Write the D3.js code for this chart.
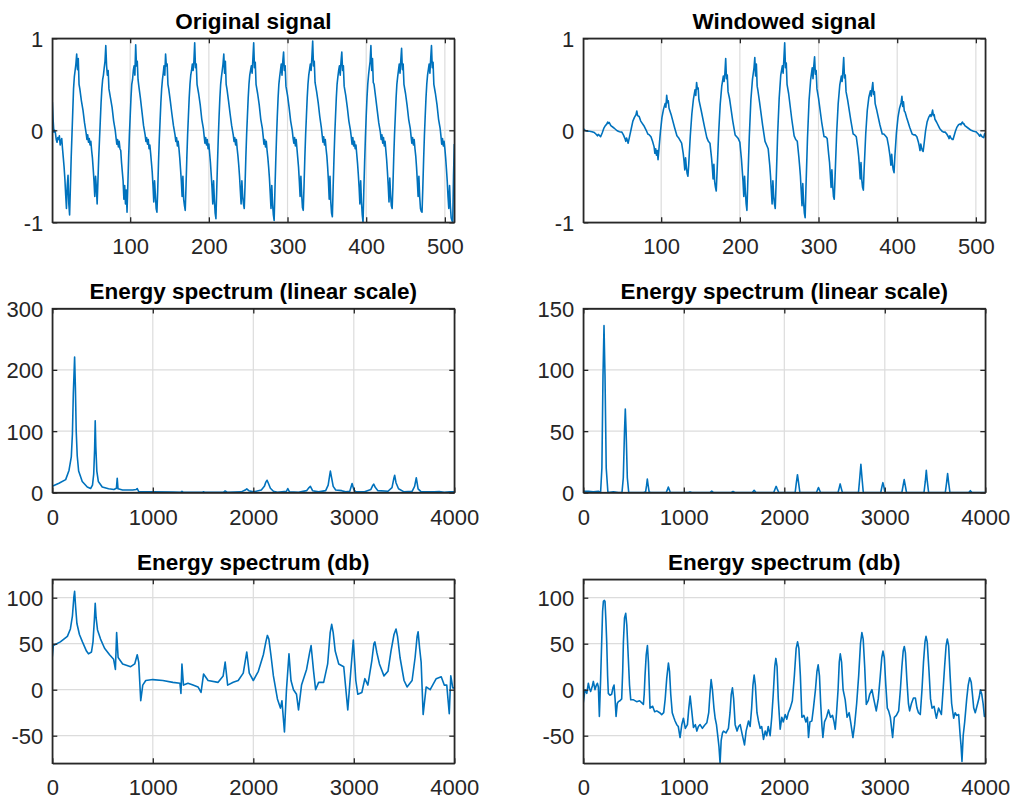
<!DOCTYPE html>
<html>
<head>
<meta charset="utf-8">
<script src="https://cdn.jsdelivr.net/npm/d3@7"></script>
<style>
  body { margin: 0; background: #fff; }
  svg { display: block; }
</style>
</head>
<body>
<svg id="chart" width="1016" height="799"></svg>
<script>
// sample index, amplitude
const originalSignal = [
  [1,0.31],[2,0.12],[3,-0.02],[4,0.0],[5,-0.03],[6,-0.1],[7,-0.13],[8,-0.08],[9,-0.1],[10,-0.06],[11,-0.16],[12,-0.12],[13,-0.09],[14,-0.2],[15,-0.3],[16,-0.4],[17,-0.53],[18,-0.7],[19,-0.85],[20,-0.6],[21,-0.49],[22,-0.8],[23,-0.92],
  [24,-0.62],[25,-0.3],[26,-0.05],[27,0.2],[28,0.45],[29,0.58],[30,0.65],[31,0.72],[32,0.83],[33,0.66],[34,0.78],[35,0.5],[36,0.45],[38,0.32],[40,0.22],[42,0.08],[44,-0.03],[45,-0.1],[46,-0.05],[47,-0.13],[48,-0.09],[49,-0.16],[50,-0.12],[51,-0.22],[52,-0.3],[53,-0.42],[54,-0.55],[55,-0.72],[56,-0.5],[57,-0.62],[58,-0.8],
  [59,-0.55],[60,-0.3],[61,-0.1],[62,0.1],[63,0.3],[64,0.45],[65,0.55],[66,0.6],[67,0.68],[68,0.75],[69,0.92],[70,0.7],[71,0.6],[72,0.65],[73,0.45],[75,0.35],[77,0.25],[79,0.1],[81,0.0],[82,-0.08],[83,-0.15],[84,-0.1],[85,-0.18],[86,-0.12],[87,-0.2],[88,-0.22],[89,-0.35],[90,-0.45],[91,-0.55],[92,-0.75],[93,-0.6],[94,-0.8],[95,-0.65],[96,-0.89],
  [97,-0.6],[98,-0.3],[99,-0.05],[100,0.15],[101,0.35],[102,0.5],[103,0.55],[104,0.65],[105,0.7],[106,0.6],[107,0.93],[108,0.7],[109,0.75],[110,0.55],[111,0.48],[113,0.35],[115,0.2],[117,0.05],[119,-0.05],[120,-0.12],[121,-0.08],[122,-0.15],[123,-0.1],[124,-0.2],[125,-0.16],[126,-0.25],[127,-0.35],[128,-0.45],[129,-0.6],[130,-0.78],[131,-0.55],[132,-0.7],[133,-0.85],[134,-0.89],
  [135,-0.65],[136,-0.35],[137,-0.1],[138,0.1],[139,0.3],[140,0.45],[141,0.55],[142,0.62],[143,0.7],[144,0.6],[145,0.83],[146,0.7],[147,0.72],[148,0.5],[149,0.45],[151,0.32],[153,0.18],[155,0.05],[157,-0.05],[158,-0.12],[159,-0.08],[160,-0.17],[161,-0.12],[162,-0.2],[163,-0.3],[164,-0.42],[165,-0.55],[166,-0.72],[167,-0.5],[168,-0.75],[169,-0.82],[170,-0.87],
  [171,-0.6],[172,-0.3],[173,-0.05],[174,0.15],[175,0.35],[176,0.5],[177,0.6],[178,0.65],[179,0.72],[180,0.65],[181,0.75],[182,0.95],[183,0.68],[184,0.72],[185,0.5],[187,0.4],[189,0.28],[191,0.12],[193,0.02],[194,-0.06],[195,-0.14],[196,-0.08],[197,-0.16],[198,-0.1],[199,-0.2],[200,-0.15],[201,-0.25],[202,-0.35],[203,-0.48],[204,-0.62],[205,-0.8],[206,-0.55],[207,-0.75],[208,-0.9],[209,-0.96],
  [210,-0.65],[211,-0.35],[212,-0.08],[213,0.15],[214,0.35],[215,0.5],[216,0.58],[217,0.65],[218,0.72],[219,0.83],[220,0.62],[221,0.75],[222,0.5],[223,0.45],[225,0.32],[227,0.18],[229,0.05],[231,-0.05],[232,-0.12],[233,-0.08],[234,-0.16],[235,-0.1],[236,-0.2],[237,-0.28],[238,-0.38],[239,-0.5],[240,-0.65],[241,-0.8],[242,-0.55],[243,-0.72],[244,-0.8],[245,-0.85],
  [246,-0.6],[247,-0.3],[248,-0.05],[249,0.15],[250,0.35],[251,0.5],[252,0.6],[253,0.65],[254,0.7],[255,0.62],[256,0.78],[257,0.95],[258,0.68],[259,0.74],[260,0.5],[262,0.4],[264,0.28],[266,0.12],[268,0.02],[269,-0.06],[270,-0.15],[271,-0.1],[272,-0.18],[273,-0.12],[274,-0.22],[275,-0.3],[276,-0.4],[277,-0.52],[278,-0.68],[279,-0.85],[280,-0.6],[281,-0.8],[282,-0.92],[283,-0.98],
  [284,-0.65],[285,-0.35],[286,-0.08],[287,0.15],[288,0.35],[289,0.5],[290,0.58],[291,0.65],[292,0.72],[293,0.6],[294,0.75],[295,0.85],[296,0.65],[297,0.7],[298,0.48],[300,0.38],[302,0.25],[304,0.1],[306,0.0],[307,-0.08],[308,-0.14],[309,-0.08],[310,-0.17],[311,-0.1],[312,-0.2],[313,-0.3],[314,-0.4],[315,-0.55],[316,-0.72],[317,-0.5],[318,-0.7],[319,-0.84],[320,-0.87],
  [321,-0.6],[322,-0.3],[323,-0.05],[324,0.15],[325,0.35],[326,0.5],[327,0.6],[328,0.66],[329,0.72],[330,0.65],[331,0.8],[332,0.97],[333,0.7],[334,0.75],[335,0.52],[337,0.42],[339,0.3],[341,0.15],[343,0.03],[344,-0.05],[345,-0.13],[346,-0.07],[347,-0.16],[348,-0.1],[349,-0.2],[350,-0.28],[351,-0.4],[352,-0.55],[353,-0.75],[354,-0.5],[355,-0.78],[356,-0.9],[357,-0.94],
  [358,-0.62],[359,-0.32],[360,-0.06],[361,0.15],[362,0.35],[363,0.5],[364,0.58],[365,0.65],[366,0.7],[367,0.6],[368,0.75],[369,0.85],[370,0.65],[371,0.7],[372,0.48],[374,0.38],[376,0.25],[378,0.1],[380,0.0],[381,-0.07],[382,-0.15],[383,-0.08],[384,-0.17],[385,-0.12],[386,-0.2],[387,-0.16],[388,-0.26],[389,-0.36],[390,-0.48],[391,-0.62],[392,-0.8],[393,-0.55],[394,-0.78],[395,-0.92],[396,-1.0],
  [397,-0.65],[398,-0.35],[399,-0.08],[400,0.15],[401,0.35],[402,0.5],[403,0.6],[404,0.68],[405,0.75],[406,0.92],[407,0.65],[408,0.78],[409,0.52],[410,0.5],[412,0.36],[414,0.22],[416,0.08],[418,-0.02],[419,-0.1],[420,-0.05],[421,-0.14],[422,-0.08],[423,-0.17],[424,-0.12],[425,-0.22],[426,-0.32],[427,-0.45],[428,-0.6],[429,-0.78],[430,-0.52],[431,-0.7],[432,-0.82],[433,-0.85],
  [434,-0.6],[435,-0.3],[436,-0.05],[437,0.15],[438,0.35],[439,0.5],[440,0.58],[441,0.65],[442,0.72],[443,0.62],[444,0.76],[445,0.89],[446,0.66],[447,0.72],[448,0.5],[450,0.4],[452,0.27],[454,0.12],[456,0.02],[457,-0.06],[458,-0.14],[459,-0.08],[460,-0.16],[461,-0.1],[462,-0.2],[463,-0.28],[464,-0.4],[465,-0.55],[466,-0.72],[467,-0.5],[468,-0.72],[469,-0.85],[470,-0.88],[471,-0.89],
  [472,-0.62],[473,-0.32],[474,-0.06],[475,0.15],[476,0.35],[477,0.5],[478,0.6],[479,0.66],[480,0.72],[481,0.62],[482,0.78],[483,0.92],[484,0.68],[485,0.74],[486,0.5],[488,0.4],[490,0.28],[492,0.12],[494,0.02],[495,-0.06],[496,-0.15],[497,-0.09],[498,-0.17],[499,-0.12],[500,-0.2],[501,-0.3],[502,-0.42],[503,-0.55],[504,-0.72],[505,-0.85],[506,-0.6],[507,-0.82],[508,-0.95],[509,-0.98],[510,-1.0],[511,-0.5],[512,-0.15]
];

const windowedSignal = [
  [1,0.02],[3,0.0],[6,-0.01],[9,-0.01],[12,-0.015],[15,-0.025],[17,-0.04],[19,-0.06],[20,-0.045],[21,-0.05],[23,-0.07],[25,-0.03],[27,0.02],[29,0.05],[31,0.07],[32,0.09],[33,0.075],[34,0.085],[36,0.05],[40,0.025],[44,-0.005],[47,-0.015],[50,-0.02],[52,-0.05],[54,-0.09],[55,-0.12],[56,-0.085],[57,-0.11],[58,-0.14],
  [60,-0.06],[62,0.02],[64,0.1],[66,0.14],[68,0.17],[69,0.21],[70,0.16],[72,0.15],[74,0.1],[78,0.05],[81,0.0],[83,-0.04],[85,-0.05],[87,-0.07],[89,-0.12],[91,-0.18],[92,-0.25],[93,-0.2],[94,-0.27],[95,-0.22],[96,-0.32],
  [97,-0.22],[99,-0.02],[101,0.14],[103,0.23],[105,0.29],[106,0.25],[107,0.38],[108,0.3],[109,0.32],[110,0.24],[113,0.16],[117,0.03],[120,-0.06],[122,-0.08],[124,-0.11],[126,-0.14],[128,-0.25],[129,-0.33],[130,-0.43],[131,-0.3],[132,-0.4],[133,-0.47],[134,-0.5],
  [135,-0.37],[137,-0.06],[139,0.18],[141,0.34],[143,0.44],[144,0.38],[145,0.52],[146,0.45],[147,0.46],[148,0.33],[151,0.21],[155,0.04],[158,-0.08],[160,-0.12],[162,-0.14],[164,-0.3],[165,-0.4],[166,-0.53],[167,-0.37],[168,-0.56],[169,-0.62],[170,-0.66],
  [171,-0.46],[173,-0.04],[175,0.28],[177,0.48],[179,0.59],[180,0.53],[181,0.62],[182,0.78],[183,0.56],[184,0.6],[185,0.42],[187,0.34],[191,0.1],[194,-0.05],[196,-0.07],[198,-0.09],[200,-0.13],[202,-0.31],[203,-0.43],[204,-0.55],[205,-0.72],[206,-0.5],[207,-0.67],[208,-0.8],[209,-0.87],
  [210,-0.59],[212,-0.07],[214,0.33],[216,0.55],[218,0.68],[219,0.79],[220,0.59],[221,0.72],[222,0.48],[223,0.43],[225,0.31],[229,0.05],[232,-0.12],[234,-0.16],[236,-0.2],[238,-0.38],[239,-0.5],[240,-0.65],[241,-0.8],[242,-0.55],[243,-0.72],[244,-0.8],[245,-0.85],
  [246,-0.6],[248,-0.05],[250,0.35],[252,0.6],[254,0.7],[255,0.62],[256,0.78],[257,0.95],[258,0.68],[259,0.73],[260,0.5],[262,0.4],[266,0.12],[269,-0.06],[271,-0.1],[273,-0.12],[275,-0.29],[276,-0.39],[277,-0.5],[278,-0.66],[279,-0.82],[280,-0.58],[281,-0.78],[282,-0.9],[283,-0.95],
  [284,-0.63],[286,-0.08],[288,0.33],[290,0.55],[292,0.68],[293,0.56],[294,0.7],[295,0.8],[296,0.61],[297,0.65],[298,0.45],[300,0.35],[304,0.09],[307,-0.07],[309,-0.07],[311,-0.09],[313,-0.27],[314,-0.35],[315,-0.48],[316,-0.62],[317,-0.43],[318,-0.6],[319,-0.72],[320,-0.75],
  [321,-0.51],[323,-0.04],[325,0.29],[327,0.49],[329,0.59],[330,0.53],[331,0.65],[332,0.79],[333,0.57],[334,0.6],[335,0.42],[337,0.33],[341,0.11],[344,-0.04],[346,-0.05],[348,-0.07],[350,-0.2],[351,-0.28],[352,-0.39],[353,-0.53],[354,-0.35],[355,-0.54],[356,-0.62],[357,-0.65],
  [358,-0.42],[360,-0.04],[362,0.22],[364,0.36],[366,0.43],[367,0.37],[368,0.45],[369,0.52],[370,0.39],[371,0.42],[372,0.29],[374,0.22],[378,0.06],[381,-0.04],[383,-0.04],[385,-0.06],[387,-0.08],[389,-0.17],[390,-0.23],[391,-0.29],[392,-0.38],[393,-0.26],[394,-0.37],[395,-0.43],[396,-0.46],
  [397,-0.29],[399,-0.03],[401,0.14],[403,0.24],[405,0.3],[406,0.37],[407,0.26],[408,0.31],[409,0.21],[410,0.2],[412,0.14],[416,0.03],[419,-0.04],[421,-0.05],[423,-0.05],[425,-0.07],[427,-0.13],[428,-0.17],[429,-0.22],[430,-0.15],[431,-0.19],[432,-0.22],[433,-0.23],
  [434,-0.16],[436,-0.01],[438,0.09],[440,0.14],[442,0.17],[443,0.15],[444,0.18],[445,0.22],[446,0.16],[447,0.17],[448,0.12],[450,0.09],[454,0.02],[457,-0.01],[459,-0.02],[461,-0.02],[463,-0.04],[465,-0.07],[466,-0.09],[467,-0.06],[468,-0.08],[469,-0.09],[470,-0.1],[471,-0.1],
  [472,-0.07],[474,-0.01],[476,0.035],[478,0.06],[480,0.07],[481,0.06],[482,0.08],[483,0.09],[484,0.07],[485,0.07],[486,0.05],[490,0.025],[494,0.0],[497,-0.01],[500,-0.015],[503,-0.04],[505,-0.065],[506,-0.045],[507,-0.06],[508,-0.07],[510,-0.08],[511,-0.04],[512,-0.03]
];

// frequency (Hz), energy
const spectrumLinear = [
  [0,10],[66,15],[133,21],[166,36],[189,58],[200,95],[209,160],[222,221],[230,170],[238,100],[248,60],[262,35],[298,18],[348,9],[381,6.5],[400,12],[412,30],[421,70],[427,117],[433,75],[443,35],[458,18],[497,9],[560,6],[613,5],[638,7],[646,23],[654,6],[700,4],[800,4],[835,5],[845,6.5],[860,1.5],[900,1],[1000,1.2],[1200,0.8],[1280,0.5],[1290,2],[1300,0.5],[1495,0.5],[1505,1.2],[1515,0.5],[1705,0.5],[1720,2.5],[1740,0.5],[1880,1],[1920,4],[1935,6],[1955,3],[2000,1],[2080,4],[2110,10],[2125,17],[2137,20],[2150,15],[2170,7],[2200,2],[2240,0.3],[2330,2],[2343,6.5],[2360,1],[2450,0.5],[2530,3],[2555,8],[2568,10],[2590,3],[2650,1],[2720,3],[2745,12],[2760,28],[2767,35],[2778,25],[2795,10],[2820,4],[2880,3],[2920,1],[2960,2],[2983,14.7],[3000,5],[3020,1],[3100,1],[3170,5],[3190,12],[3198,13.6],[3215,8],[3240,3],[3340,2],[3380,8],[3400,24],[3407,28],[3420,16],[3445,6],[3500,1],[3580,2],[3605,10],[3622,24],[3640,6],[3670,1],[3800,1],[3850,1.5],[3900,0.5],[3960,1],[4000,1]
];

const spectrumLinearWindowed = [
  [0,1],[50,1],[100,0.5],[150,1],[172,0],[185,20],[196,95],[206,136],[216,95],[228,20],[245,0],[300,0.5],[350,0],[385,0],[398,12],[410,50],[418,68],[426,50],[438,12],[452,0],[500,0],[600,0],[620,0.5],[630,6],[637,11],[645,6],[655,0.5],[670,0],[825,0],[838,2.5],[846,4.5],[855,2.5],[866,0],[1045,0],[1062,0.5],[1080,0],[1260,0],[1278,1.2],[1296,0],[1472,0],[1490,0.8],[1508,0],[1682,0],[1700,1.8],[1718,0],[1895,0],[1909,3],[1919,5],[1929,3],[1945,0],[2108,0],[2120,8],[2131,14.5],[2142,8],[2155,0],[2320,0],[2332,2.5],[2340,4],[2348,2.5],[2360,0],[2535,0],[2547,4],[2556,7],[2565,4],[2578,0],[2738,0],[2751,12],[2762,23],[2773,12],[2786,0],[2960,0],[2972,5],[2981,8],[2990,5],[3002,0],[3170,0],[3183,6],[3193,10.5],[3203,6],[3216,0],[3390,0],[3403,9],[3413,18],[3423,9],[3436,0],[3602,0],[3615,8],[3625,15.5],[3635,8],[3648,0],[3835,0],[3851,1.5],[3867,0],[4000,0]
];

// frequency (Hz), dB
const spectrumDb = [
  [0,36],[10,48],[80,52],[150,58],[180,66],[200,80],[214,100],[222,107],[232,90],[245,72],[270,60],[300,52],[340,42],[360,39],[390,41],[405,52],[418,75],[427,94],[436,78],[450,65],[480,55],[520,45],[570,38],[610,33],[628,22],[640,62],[655,35],[700,28],[780,25],[820,28],[845,38],[860,30],[880,-12],[900,5],[930,10],[1000,11],[1100,10],[1200,8],[1270,7],[1280,-4],[1290,28],[1305,5],[1350,7],[1400,5],[1450,3],[1480,-3],[1505,17],[1550,10],[1650,8],[1700,15],[1720,30],[1745,5],[1800,8],[1850,10],[1900,18],[1935,41],[1960,18],[2000,10],[2050,20],[2100,38],[2125,52],[2140,59],[2155,55],[2175,38],[2200,15],[2240,-10],[2270,-20],[2285,-12],[2310,-46],[2330,0],[2355,39],[2375,10],[2400,0],[2430,-5],[2450,-22],[2480,5],[2530,22],[2560,40],[2575,48],[2600,20],[2620,0],[2650,8],[2700,8],[2740,28],[2765,62],[2780,71],[2795,62],[2815,42],[2850,28],[2900,25],[2940,-22],[2970,20],[2995,54],[3020,10],[3040,-5],[3080,-3],[3110,12],[3140,5],[3180,32],[3200,50],[3210,52],[3230,40],[3255,28],[3300,15],[3340,20],[3370,42],[3400,60],[3420,66],[3435,58],[3460,35],[3500,10],[3530,3],[3580,10],[3610,35],[3630,58],[3640,63],[3655,45],[3670,30],[3690,-27],[3720,3],[3760,0],[3820,12],[3870,14],[3900,5],[3925,5],[3950,-26],[3965,15],[3985,2],[4000,2]
];

const spectrumDbWindowed = [
  [0,-14],[17,0],[35,-4],[50,7],[62,1],[73,-2],[90,4],[100,9],[116,0],[130,5],[140,7],[150,3],[160,-29],[172,10],[183,52],[192,85],[200,96],[208,97],[216,96],[225,75],[233,52],[242,15],[249,-4],[265,-6],[282,-5],[295,2],[306,5],[316,-10],[326,-29],[338,-15],[349,-13],[365,-12],[382,-10],[392,20],[399,52],[410,78],[422,83],[433,70],[448,34],[460,5],[472,-11],[500,-11],[531,-13],[560,-12],[598,-16],[606,-5],[614,15],[626,38],[638,48],[648,30],[656,5],[664,-20],[690,-18],[710,-24],[731,-23],[760,-25],[780,-27],[800,-25],[815,-10],[830,12],[847,29],[858,20],[870,-5],[885,-25],[900,-30],[913,-34],[930,-38],[945,-40],[963,-52],[980,-38],[996,-31],[1015,-42],[1036,-38],[1050,-20],[1063,-7],[1078,-22],[1096,-41],[1115,-38],[1130,-45],[1145,-40],[1162,-38],[1185,-42],[1205,-39],[1229,-36],[1248,-25],[1260,-5],[1272,11],[1285,0],[1300,-20],[1312,-31],[1325,-38],[1340,-52],[1350,-62],[1361,-80],[1372,-55],[1385,-47],[1395,-45],[1420,-47],[1444,-42],[1460,-25],[1472,-5],[1484,2],[1496,-10],[1511,-38],[1530,-45],[1545,-40],[1561,-38],[1580,-48],[1604,-60],[1620,-45],[1644,-34],[1660,-40],[1675,-20],[1688,5],[1700,16],[1712,5],[1728,-25],[1743,-34],[1760,-42],[1775,-40],[1793,-54],[1810,-45],[1825,-50],[1840,-40],[1859,-50],[1875,-30],[1890,-5],[1905,25],[1916,34],[1928,25],[1940,-10],[1959,-43],[1975,-30],[1990,-35],[2009,-27],[2025,-32],[2040,-25],[2059,-20],[2080,-12],[2100,15],[2118,45],[2132,52],[2145,45],[2160,15],[2175,-30],[2195,-28],[2215,-35],[2230,-30],[2241,-52],[2255,-35],[2274,-34],[2290,-20],[2310,0],[2325,20],[2337,27],[2350,15],[2362,-15],[2375,-40],[2384,-52],[2400,-35],[2420,-30],[2440,-22],[2460,-30],[2480,-28],[2495,-35],[2507,-43],[2520,-25],[2535,0],[2547,30],[2557,39],[2570,30],[2585,0],[2606,-11],[2625,-30],[2645,-25],[2660,-35],[2683,-52],[2700,-38],[2720,-15],[2740,15],[2758,50],[2772,62],[2785,55],[2800,25],[2816,-16],[2835,-12],[2850,-5],[2872,0],[2890,-10],[2915,-23],[2935,-10],[2955,15],[2970,35],[2982,42],[2995,35],[3010,5],[3025,-20],[3038,-23],[3055,-30],[3078,-52],[3095,-30],[3115,-28],[3138,-23],[3155,0],[3170,25],[3183,42],[3194,47],[3205,40],[3220,10],[3235,-15],[3247,-23],[3265,-15],[3285,-9],[3304,-9],[3320,-20],[3335,-25],[3353,-27],[3370,0],[3385,30],[3400,52],[3410,58],[3422,52],[3440,20],[3455,-10],[3470,-20],[3490,-18],[3513,-31],[3535,-20],[3563,-27],[3580,0],[3595,25],[3610,48],[3622,55],[3635,48],[3650,15],[3665,-15],[3685,-31],[3700,-25],[3715,-28],[3735,-27],[3750,-50],[3758,-60],[3768,-78],[3780,-50],[3795,-35],[3815,-10],[3830,5],[3845,13],[3860,8],[3872,-5],[3885,-20],[3900,-25],[3924,-15],[3940,-8],[3951,0],[3965,-5],[3978,-15],[3991,-29],[4000,-28]
];

const titles = ["Original signal", "Windowed signal",
  "Energy spectrum (linear scale)", "Energy spectrum (linear scale)",
  "Energy spectrum (db)", "Energy spectrum (db)"];
const signalTicksX = [100, 200, 300, 400, 500];
const signalTicksY = [-1, 0, 1];
const freqTicksX = [0, 1000, 2000, 3000, 4000];
const linTicksLeft = [0, 100, 200, 300];
const linTicksRight = [0, 50, 100, 150];
const dbTicksY = [-50, 0, 50, 100];

const panels = [
  {data: originalSignal, xd: [1, 512], yd: [-1, 1], xt: signalTicksX, yt: signalTicksY},
  {data: windowedSignal, xd: [1, 512], yd: [-1, 1], xt: signalTicksX, yt: signalTicksY},
  {data: spectrumLinear, xd: [0, 4000], yd: [0, 300], xt: freqTicksX, yt: linTicksLeft},
  {data: spectrumLinearWindowed, xd: [0, 4000], yd: [0, 150], xt: freqTicksX, yt: linTicksRight},
  {data: spectrumDb, xd: [0, 4000], yd: [-80, 120], xt: freqTicksX, yt: dbTicksY},
  {data: spectrumDbWindowed, xd: [0, 4000], yd: [-80, 120], xt: freqTicksX, yt: dbTicksY}
];

const svg = d3.select("#chart");
const colLeft = [52.3, 583.3];
const rowTop = [38.3, 308.5, 579.3];
const w = 402, h = 184;
const axisColor = "#262626";
const fontFamily = "'Liberation Sans', Arial, Helvetica, sans-serif";
const plainNum = d => String(d); // MATLAB uses a plain hyphen for negatives

panels.forEach((p, k) => {
  const col = k % 2, row = Math.floor(k / 2);
  const g = svg.append("g")
    .attr("transform", `translate(${colLeft[col]},${rowTop[row]})`);

  const x = d3.scaleLinear().domain(p.xd).range([0, w]);
  const y = d3.scaleLinear().domain(p.yd).range([h, 0]);

  // grid
  g.append("g").selectAll("line").data(p.xt.filter(t => t > p.xd[0] && t < p.xd[1]))
    .enter().append("line")
    .attr("x1", d => x(d)).attr("x2", d => x(d))
    .attr("y1", 0).attr("y2", h)
    .attr("stroke", "#dcdcdc").attr("stroke-width", 1.2);
  g.append("g").selectAll("line").data(p.yt.filter(t => t > p.yd[0] && t < p.yd[1]))
    .enter().append("line")
    .attr("y1", d => y(d)).attr("y2", d => y(d))
    .attr("x1", 0).attr("x2", w)
    .attr("stroke", "#dcdcdc").attr("stroke-width", 1.2);

  // data line
  const clipId = "clip" + k;
  g.append("clipPath").attr("id", clipId)
    .append("rect").attr("x", 0).attr("y", -1).attr("width", w).attr("height", h + 2);
  g.append("path")
    .datum(p.data)
    .attr("clip-path", `url(#${clipId})`)
    .attr("fill", "none")
    .attr("stroke", "#0072BD")
    .attr("stroke-width", 1.6)
    .attr("stroke-linejoin", "round")
    .attr("d", d3.line().x(d => x(d[0])).y(d => y(d[1])));

  // box with inward ticks on all sides (MATLAB style)
  const axB = d3.axisBottom(x).tickValues(p.xt).tickSizeInner(-5).tickSizeOuter(0).tickFormat(plainNum);
  const axT = d3.axisTop(x).tickValues(p.xt).tickSizeInner(-5).tickSizeOuter(0).tickFormat("");
  const axL = d3.axisLeft(y).tickValues(p.yt).tickSizeInner(-5).tickSizeOuter(0).tickFormat(plainNum);
  const axR = d3.axisRight(y).tickValues(p.yt).tickSizeInner(-5).tickSizeOuter(0).tickFormat("");

  const gb = g.append("g").attr("transform", `translate(0,${h})`).call(axB);
  g.append("g").call(axT);
  const gl = g.append("g").call(axL);
  g.append("g").attr("transform", `translate(${w},0)`).call(axR);

  g.selectAll(".domain").attr("stroke", axisColor).attr("stroke-width", 1.3);
  g.selectAll(".tick line").attr("stroke", axisColor).attr("stroke-width", 1.3);

  gb.selectAll(".tick text")
    .attr("y", 32).attr("dy", null)
    .attr("fill", axisColor)
    .style("font-family", fontFamily).style("font-size", "22px");
  gl.selectAll(".tick text")
    .attr("x", -9).attr("dy", "0.36em")
    .attr("fill", axisColor)
    .style("font-family", fontFamily).style("font-size", "22px");

  // plain rectangle so the box corners are closed
  g.append("rect").attr("width", w).attr("height", h)
    .attr("fill", "none").attr("stroke", axisColor).attr("stroke-width", 1.3);

  g.append("text")
    .attr("x", w / 2).attr("y", -9.5)
    .attr("text-anchor", "middle")
    .attr("fill", "#000")
    .style("font-family", fontFamily)
    .style("font-weight", "bold")
    .style("font-size", "22.5px")
    .text(titles[k]);
});
</script>
</body>
</html>
